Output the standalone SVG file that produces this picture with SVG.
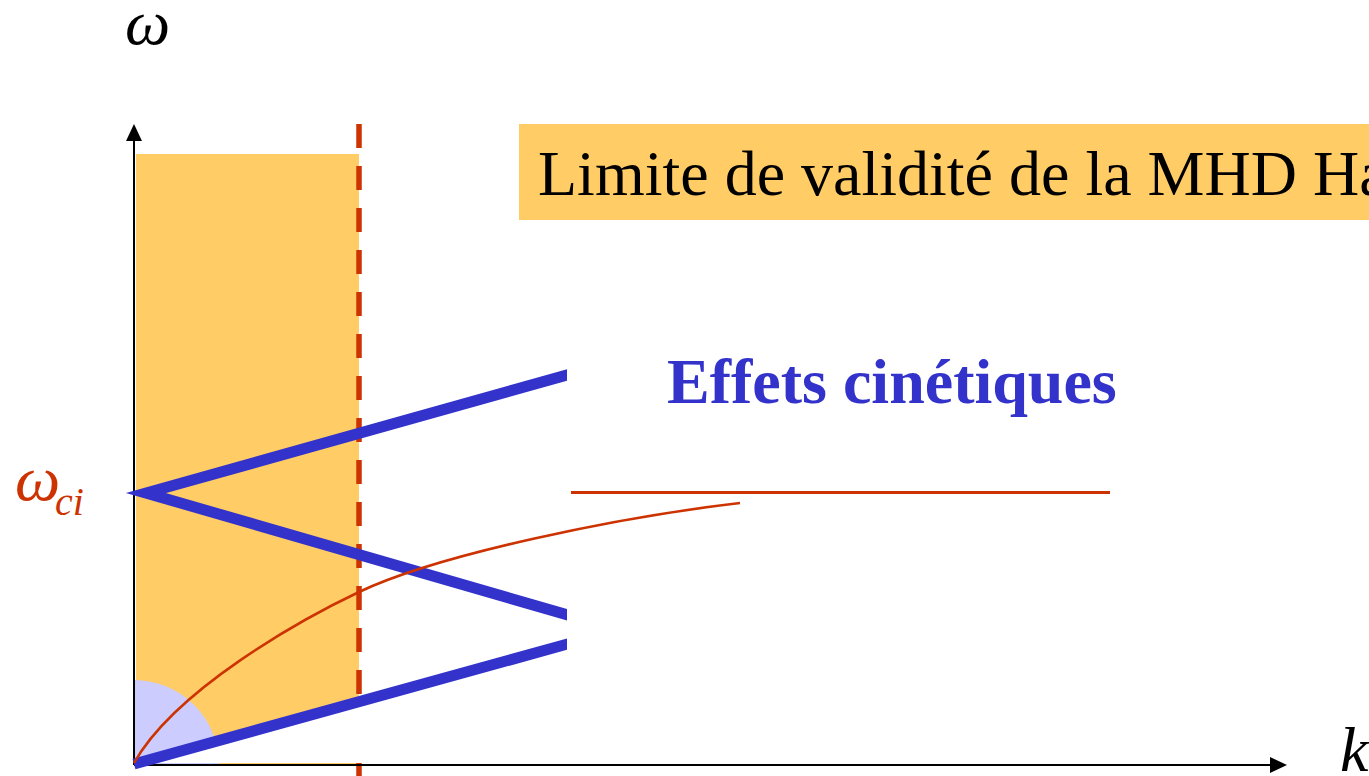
<svg xmlns="http://www.w3.org/2000/svg" width="1369" height="776" viewBox="0 0 1369 776">
<style>
.serif{font-family:"Liberation Serif","Times New Roman",serif}
.it{font-style:italic}
.blue{stroke:#3333CC;stroke-width:11;fill:none}
.red{stroke:#CC3300;fill:none}
.axis{stroke:#000;stroke-width:2;fill:none}
</style>
<defs>
<clipPath id="cut"><rect x="0" y="0" width="567" height="776"/></clipPath>
</defs>
<rect width="1369" height="776" fill="#fff"/>
<g id="validity-region">
<rect x="136" y="154" width="223" height="612" fill="#FFCC66"/>
<path d="M134,765 L134,680 A85,85 0 0 1 219,765 Z" fill="#CCCCFF"/>
<line x1="359" y1="124" x2="359" y2="778" stroke="#CC3300" stroke-width="5.5" stroke-dasharray="24 18"/>
<polygon points="138,763 567,641 567,763" fill="#fff"/>
</g>
<g id="axes">
<line class="axis" x1="134" y1="765" x2="134" y2="136"/>
<polygon points="134,124 126,141 142,141" fill="#000"/>
<line class="axis" x1="134" y1="765" x2="1275" y2="765"/>
<polygon points="1287,765 1270,757 1270,773" fill="#000"/>
</g>
<g id="connectors">
<g clip-path="url(#cut)">
<polyline class="blue" points="580,371.4 146,493 580,618.6" stroke-miterlimit="10"/>
<line class="blue" x1="134" y1="764" x2="580" y2="640.5"/>
</g>
<line class="red" x1="571" y1="492.5" x2="1110" y2="492.5" stroke-width="3"/>
<path class="red" stroke-width="2.5" d="M134,763 C175,690 300,620 359,592 C439,554 620,517 740,503"/>
</g>
<g id="label-omega">
<text class="serif it" x="125" y="44" font-size="64">ω</text>
</g>
<g id="label-omega-ci" fill="#CC3300">
<text class="serif it" x="15" y="500" font-size="64">ω</text>
<text class="serif it" x="55" y="515" font-size="40">ci</text>
</g>
<g id="label-k">
<text class="serif it" x="1340" y="771" font-size="64">k</text>
</g>
<g id="label-limite">
<rect x="519" y="124" width="850" height="96" fill="#FFCC66"/>
<text class="serif" x="538" y="195" font-size="64">Limite de validité de la MHD Ha</text>
</g>
<g id="label-effets">
<text class="serif" x="667" y="403" font-size="64" font-weight="bold" fill="#3333CC">Effets cinétiques</text>
</g>
</svg>
